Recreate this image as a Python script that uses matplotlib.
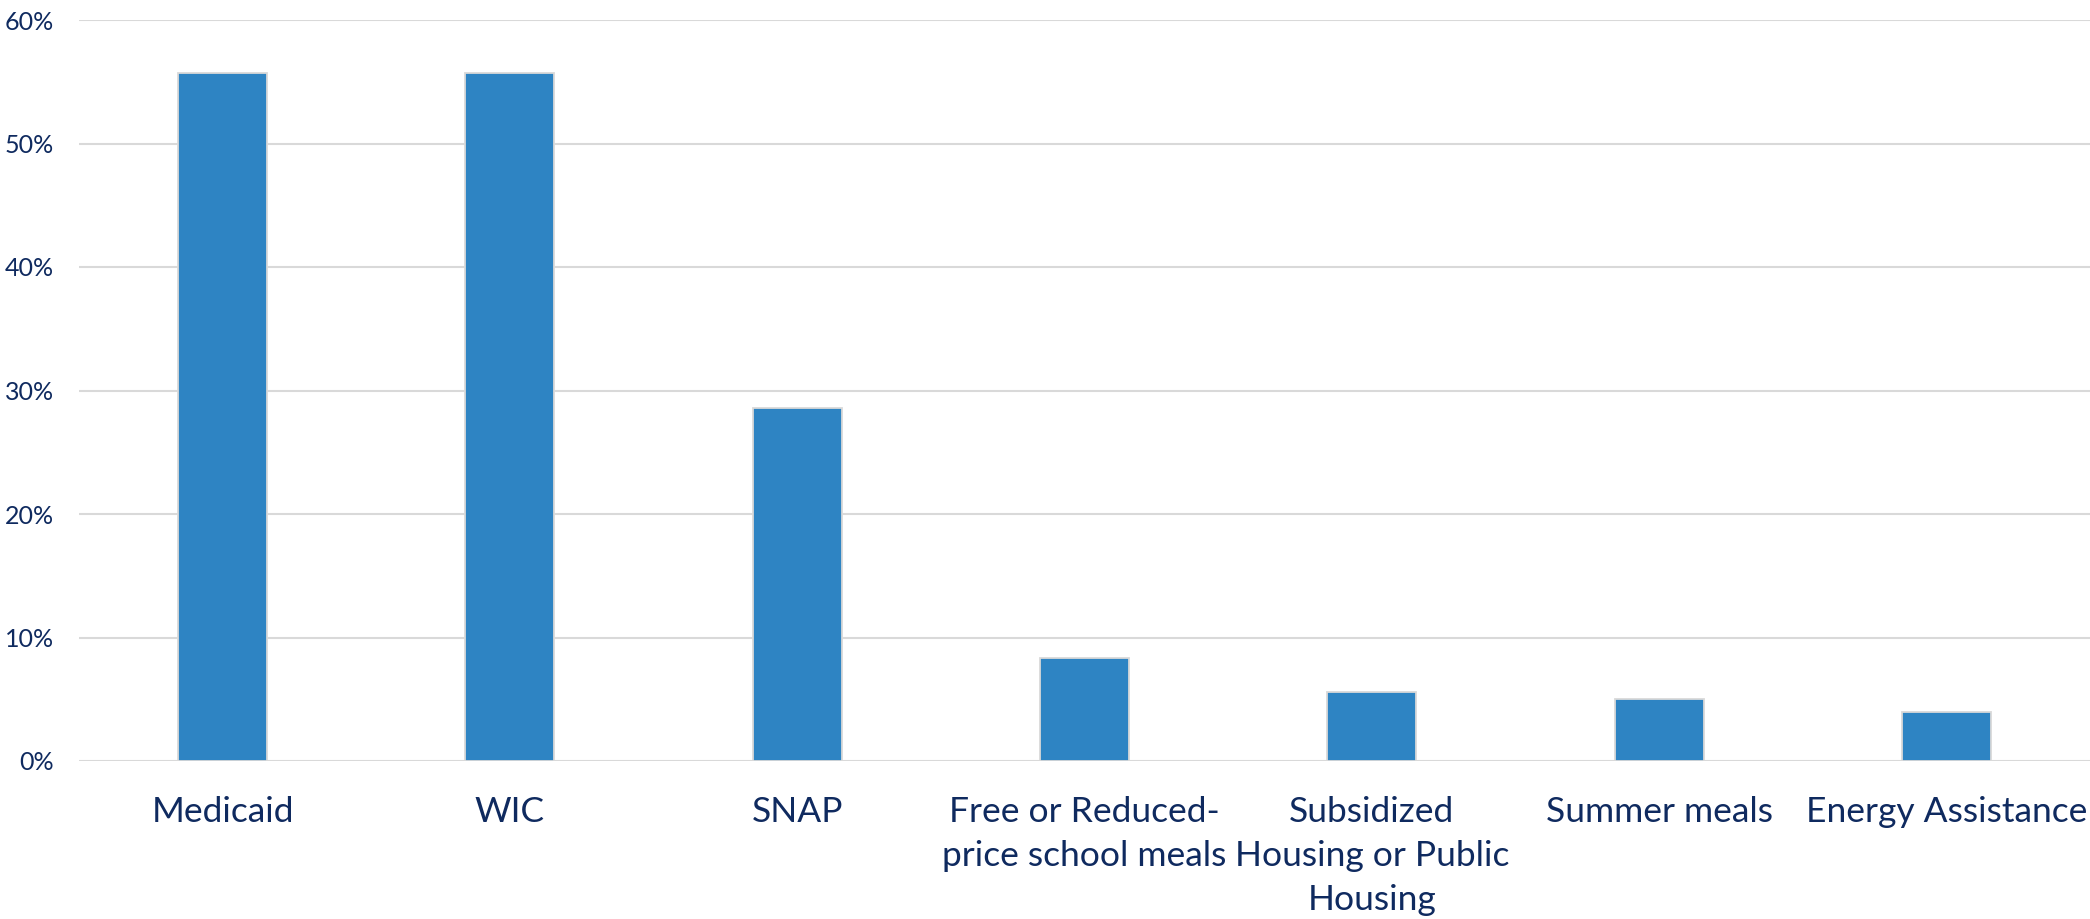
import matplotlib
matplotlib.use("Agg")
import matplotlib.pyplot as plt
from matplotlib.ticker import FuncFormatter

categories = ["Medicaid", "WIC", "SNAP", "Free or Reduced-\nprice school meals",
              "Subsidized\nHousing or Public\nHousing", "Summer meals", "Energy Assistance"]
values = [55.7, 55.7, 28.6, 8.3, 5.6, 5.0, 4.0]
yticks = [0, 10, 20, 30, 40, 50, 60]

plt.rcParams['font.family'] = ['Lato', 'DejaVu Sans']
text_color = '#0F2A5F'
grid_color = '#D9D9D9'
bar_color = '#2E84C3'

fig = plt.figure(figsize=(20.9, 9.19), dpi=100)
ax = fig.add_axes([79/2090, (919-761)/919, (2090-79)/2090, (761-20)/919])

x = list(range(len(categories)))
ax.bar(x, values, width=0.31, color=bar_color, edgecolor=grid_color, linewidth=1.3, zorder=3)

ax.set_xlim(-0.5, len(categories) - 0.5)
ax.set_ylim(0, 60)
ax.set_yticks(yticks)
ax.yaxis.set_major_formatter(FuncFormatter(lambda v, p: f"{int(v)}%"))
ax.grid(axis='y', color=grid_color, linewidth=1.5, zorder=0)
ax.set_axisbelow(True)
for s in ax.spines.values():
    s.set_visible(False)
ax.set_xticks(x)
ax.set_xticklabels(categories, fontsize=25.5, color=text_color, linespacing=1.46, va='top')
ax.tick_params(axis='x', length=0, pad=25)
ax.tick_params(axis='y', length=0, pad=18, labelsize=18, labelcolor=text_color)

fig.savefig("out.png", dpi=100)
